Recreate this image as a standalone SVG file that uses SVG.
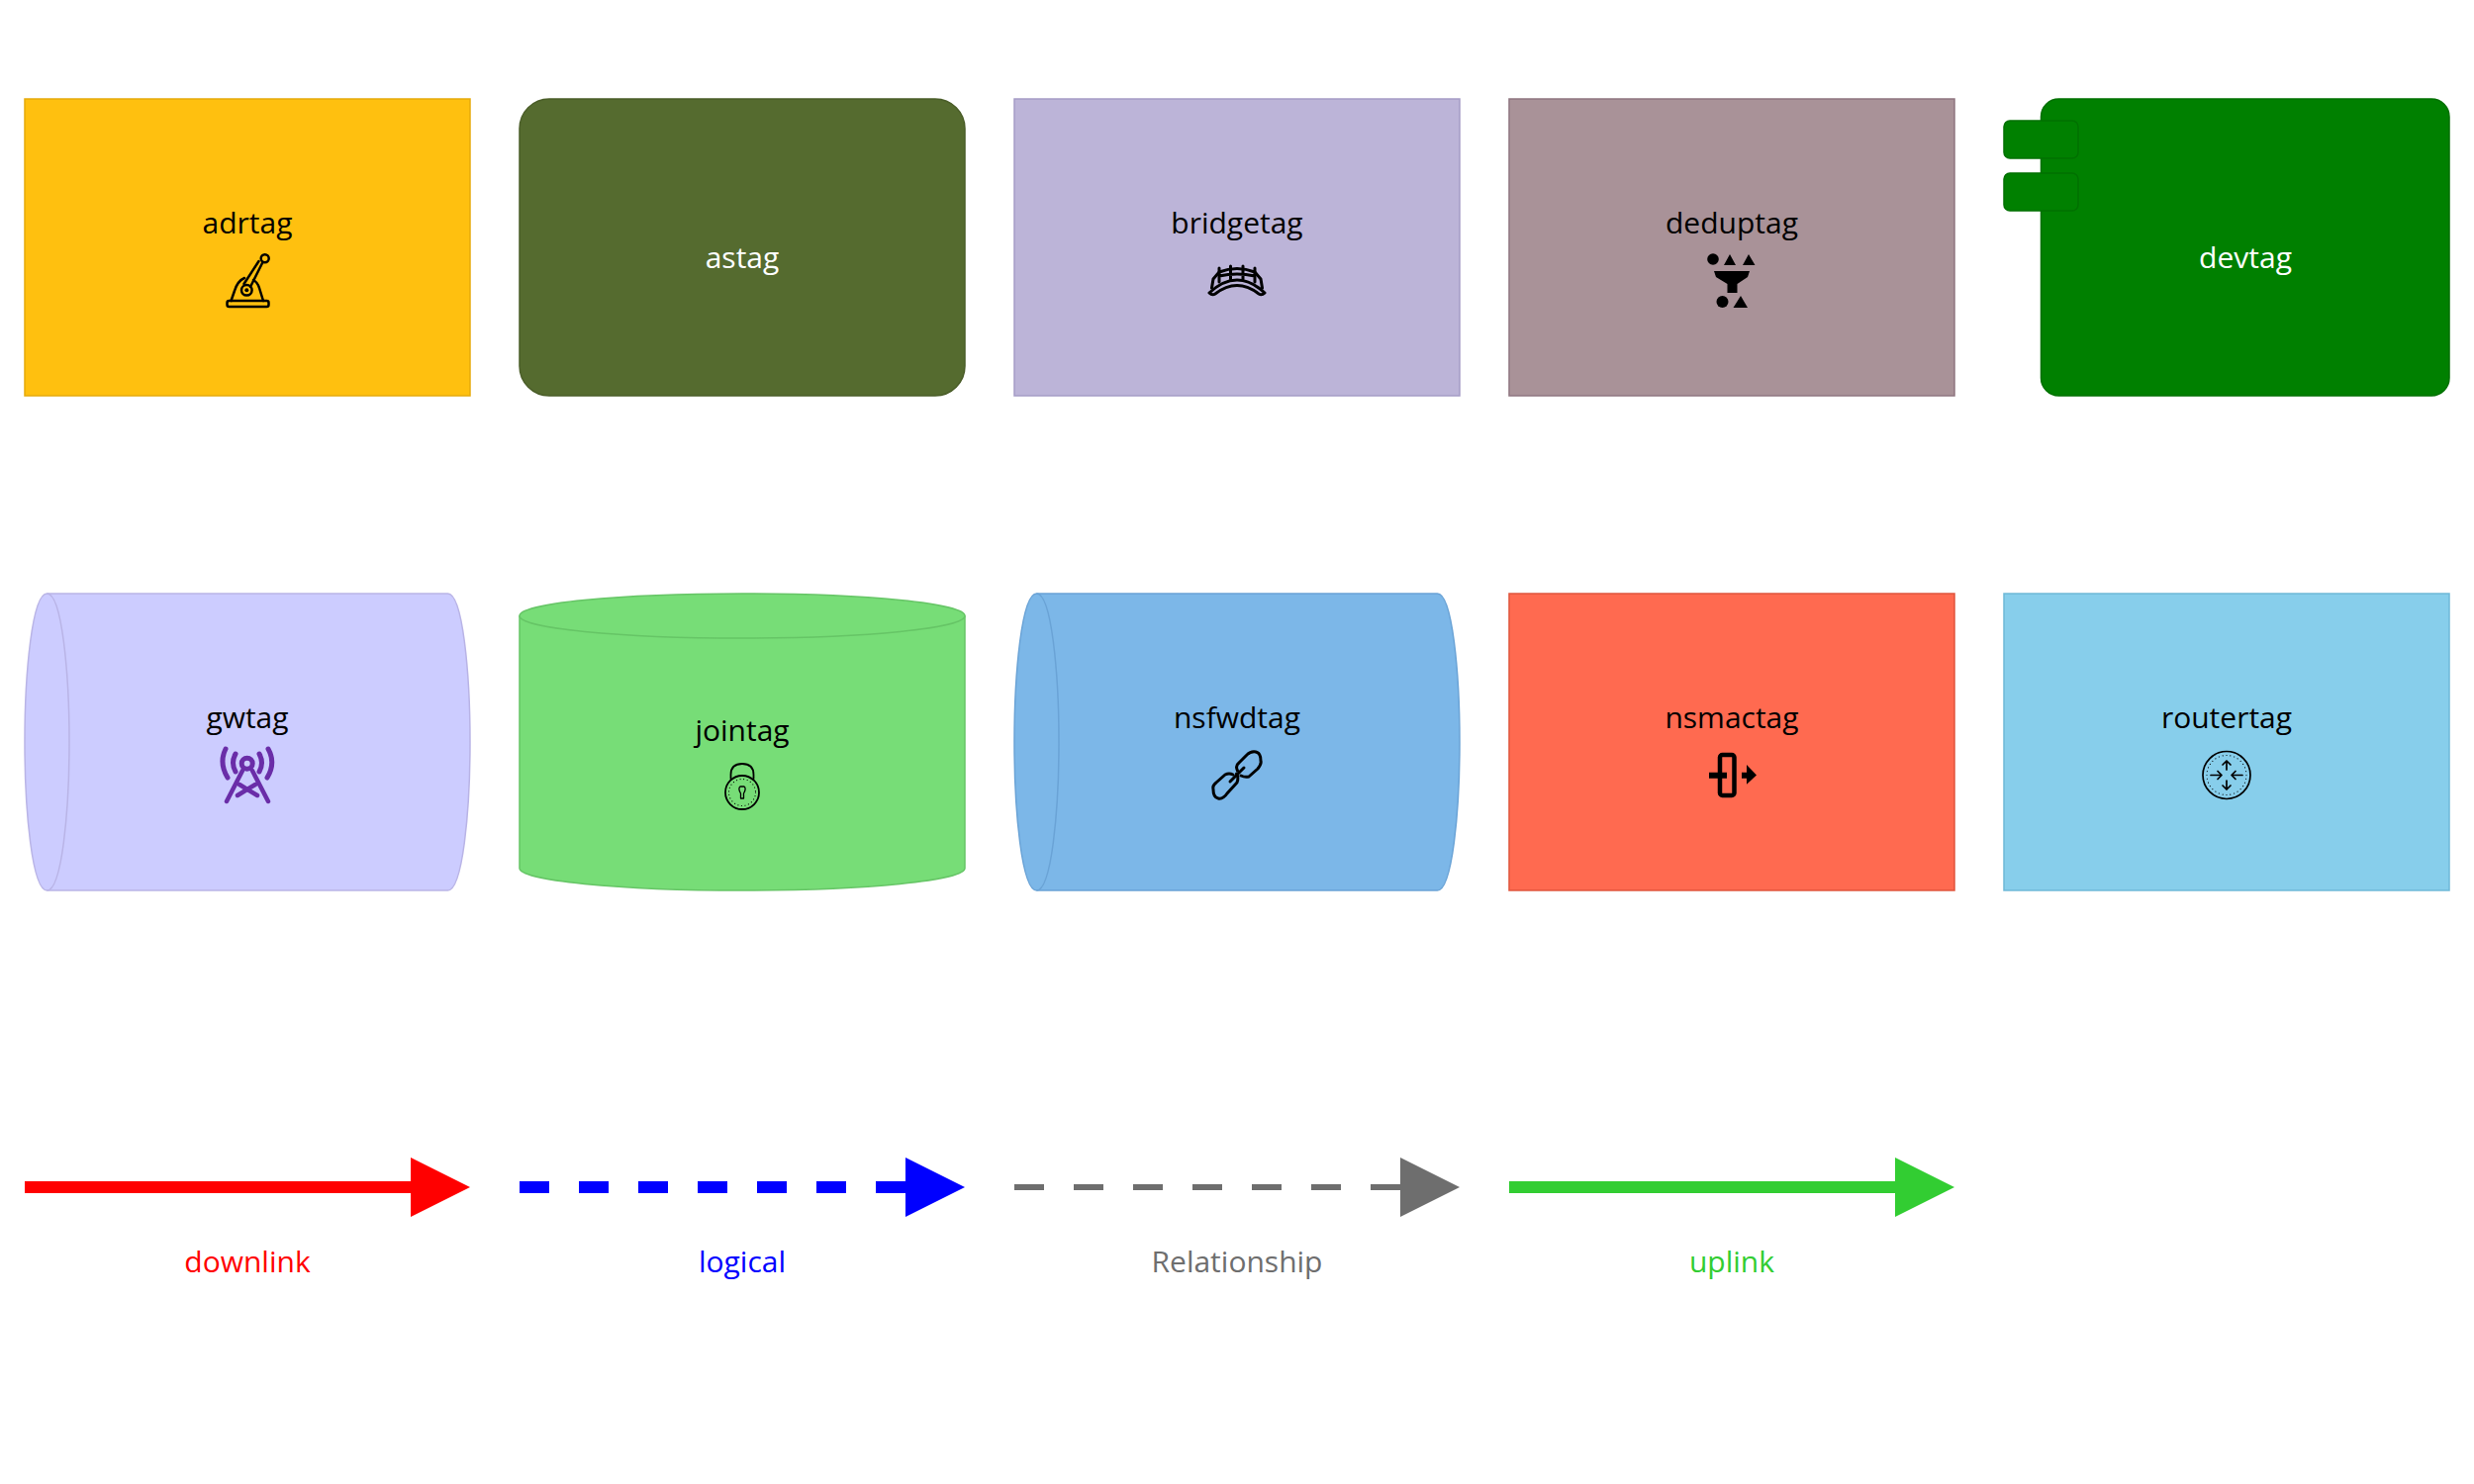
<svg xmlns="http://www.w3.org/2000/svg" width="2500" height="1500" viewBox="0 0 2500 1500">
<style>
text{font-family:"Open Sans","Noto Sans","Liberation Sans",sans-serif;font-size:30px;text-anchor:middle;fill:#000}
.s{stroke-width:1.500}
.i{fill:none;stroke:#000;stroke-width:3;stroke-linecap:round;stroke-linejoin:round}
.f{fill:#000;stroke:none}
</style>
<rect width="2500" height="1500" fill="#fff"/>
<g id="adrtag">
<rect class="s" x="25" y="100" width="450" height="300" fill="#ffc00f" stroke="#e6ab0c"/>
<text x="250" y="236">adrtag</text>
<g class="i" style="stroke-width:2.500">
<circle cx="267.700" cy="261.300" r="4"/>
<path d="M265 266L253 290M261.500 264L246.500 287"/>
<path d="M233.500 304L237 294Q240 284 247 281M256 283Q260 285 262 291L266 304"/>
<circle cx="249.300" cy="293.300" r="5.300"/>
<rect x="229.500" y="304" width="42" height="6" rx="2"/>
</g>
<circle class="f" cx="249.300" cy="293.300" r="2"/>
</g>
<g id="astag">
<rect class="s" x="525" y="100" width="450" height="300" rx="30" fill="#556b2f" stroke="#4a5d28"/>
<text x="750" y="271" style="fill:#fff">astag</text>
</g>
<g id="bridgetag">
<rect class="s" x="1025" y="100" width="450" height="300" fill="#bcb4d8" stroke="#a59cc6"/>
<text x="1250" y="236">bridgetag</text>
<g class="i">
<path d="M1222 296Q1250 270 1278 296M1222 296Q1225 299 1228 297Q1250 280 1272 297Q1275 299 1278 296" stroke-width="3"/>
<path d="M1224.500 291L1226 282L1232 275Q1250 268 1268 275L1274 282L1275.500 291"/>
<path d="M1232 271V285M1243.500 269V282M1256 269V282M1268 271V285M1232 279Q1250 275 1268 279"/>
</g>
</g>
<g id="deduptag">
<rect class="s" x="1525" y="100" width="450" height="300" fill="#a99298" stroke="#8f7580"/>
<text x="1750" y="236">deduptag</text>
<circle class="f" cx="1731" cy="262" r="5.800"/>
<path class="f" d="M1742 268L1748 257L1754 268ZM1761 268L1767 257L1773.500 268Z"/>
<path class="f" d="M1732 274H1768L1766 280L1755.500 287V296H1745.500V287L1734 280Z"/>
<circle class="f" cx="1740.500" cy="305" r="6"/>
<path class="f" d="M1751.500 311L1759 299L1766 311Z"/>
</g>
<g id="devtag">
<rect class="s" x="2062.500" y="100" width="412.500" height="300" rx="18" fill="#008000" stroke="#007000"/>
<rect class="s" x="2025" y="122" width="75" height="38" rx="6" fill="#008000" stroke="#007000"/>
<rect class="s" x="2025" y="175" width="75" height="38" rx="6" fill="#008000" stroke="#007000"/>
<text x="2269" y="271" style="fill:#fff">devtag</text>
</g>
<g id="gwtag">
<path class="s" d="M47.500 600H452.500C467.500 600 475 680 475 750C475 820 467.500 900 452.500 900H47.500C32.500 900 25 820 25 750C25 680 32.500 600 47.500 600Z" fill="#ccf" stroke="#b9b4e6"/>
<path class="s" d="M47.500 600C62.500 600 70 680 70 750C70 820 62.500 900 47.500 900" fill="none" stroke="#b9b4e6"/>
<text x="250" y="736">gwtag</text>
<g class="i" style="stroke:#6a2da8;stroke-width:5">
<circle cx="249.700" cy="771.700" r="5.500"/>
<path d="M245 779L229 810M255 779L271 810M242 793L260 804M258 793L240 804" style="stroke-width:4.500"/>
<path d="M238 762Q233 771 238 780M262 762Q267 771 262 780M228 757Q221 771 230 786M271 757Q279 771 270 786"/>
</g>
</g>
<g id="jointag">
<path class="s" d="M525 622.500C525 610 625 600 750 600C875 600 975 610 975 622.500V877.500C975 890 875 900 750 900C625 900 525 890 525 877.500Z" fill="#77dd77" stroke="#66c566"/>
<path class="s" d="M525 622.500C525 635 625 645 750 645C875 645 975 635 975 622.500" fill="none" stroke="#66c566"/>
<text x="750" y="749">jointag</text>
<g class="i" style="stroke-width:1.800">
<path d="M738.500 787V783Q738.500 772 750 772Q761.500 772 761.500 783V787"/>
<circle cx="750" cy="801" r="17"/>
<circle cx="750" cy="801" r="13.500" stroke-dasharray="0.100 3.500" style="stroke-width:1.100"/>
<path d="M748.500 802Q745.500 797 748 795H752Q754.500 797 751.500 802V807H748.500Z" style="stroke-width:1.300"/>
</g>
</g>
<g id="nsfwdtag">
<path class="s" d="M1047.500 600H1452.500C1467.500 600 1475 680 1475 750C1475 820 1467.500 900 1452.500 900H1047.500C1032.500 900 1025 820 1025 750C1025 680 1032.500 600 1047.500 600Z" fill="#7cb7e8" stroke="#6aa3d6"/>
<path class="s" d="M1047.500 600C1062.500 600 1070 680 1070 750C1070 820 1062.500 900 1047.500 900" fill="none" stroke="#6aa3d6"/>
<text x="1250" y="736">nsfwdtag</text>
<g class="i">
<path d="M1250.500 779Q1248 774 1252 771L1260 763Q1264 759 1269 760Q1274 761 1274 769Q1275 772 1271 777L1262 785Q1258 786 1254 784"/>
<path d="M1249.500 782Q1252 786 1250 791L1240 802Q1236 808 1231 807Q1226 806 1226 798Q1225 794 1229 791L1238 783Q1242 781 1246 783"/>
<path d="M1243 790L1257 776"/>
</g>
</g>
<g id="nsmactag">
<rect class="s" x="1525" y="600" width="450" height="300" fill="#ff6a50" stroke="#e0553d"/>
<text x="1750" y="736">nsmactag</text>
<rect class="i" x="1738" y="763" width="14.500" height="41" rx="2.500" style="stroke-width:4.500"/>
<path class="f" d="M1727 780.700H1745V786.700H1727ZM1760 780.700H1765V773L1775 783.500L1765 792.700V786.700H1760Z"/>
</g>
<g id="routertag">
<rect class="s" x="2025" y="600" width="450" height="300" fill="#87ceeb" stroke="#6fb9d8"/>
<text x="2250" y="736">routertag</text>
<g class="i" style="stroke-width:1.700">
<circle cx="2250" cy="783.500" r="24"/>
<circle cx="2250" cy="783.500" r="20" stroke-dasharray="0.100 3.800" style="stroke-width:1.100"/>
<path d="M2250 778V769M2246 773L2250 769L2254 773M2250 789V798M2246 794L2250 798L2254 794M2234 783.500H2244M2241 779.500L2245 783.500L2241 787.500M2266 783.500H2256M2259 779.500L2255 783.500L2259 787.500"/>
</g>
</g>
<g id="connectors" fill="none" stroke-width="12">
<path d="M25 1200H420" stroke="#f00"/>
<path d="M525 1200H920" stroke="#00f" stroke-dasharray="30 30"/>
<path d="M1025 1200H1420" stroke="#6e6e6e" stroke-dasharray="30 30" style="stroke-width:6"/>
<path d="M1525 1200H1920" stroke="#32cd32"/>
<path d="M415 1170L475 1200L415 1230Z" fill="#f00"/>
<path d="M915 1170L975 1200L915 1230Z" fill="#00f"/>
<path d="M1415 1170L1475 1200L1415 1230Z" fill="#6e6e6e"/>
<path d="M1915 1170L1975 1200L1915 1230Z" fill="#32cd32"/>
</g>
<text x="250" y="1286" style="fill:#f00">downlink</text>
<text x="750" y="1286" style="fill:#00f">logical</text>
<text x="1250" y="1286" style="fill:#6e6e6e">Relationship</text>
<text x="1750" y="1286" style="fill:#32cd32">uplink</text>
</svg>
